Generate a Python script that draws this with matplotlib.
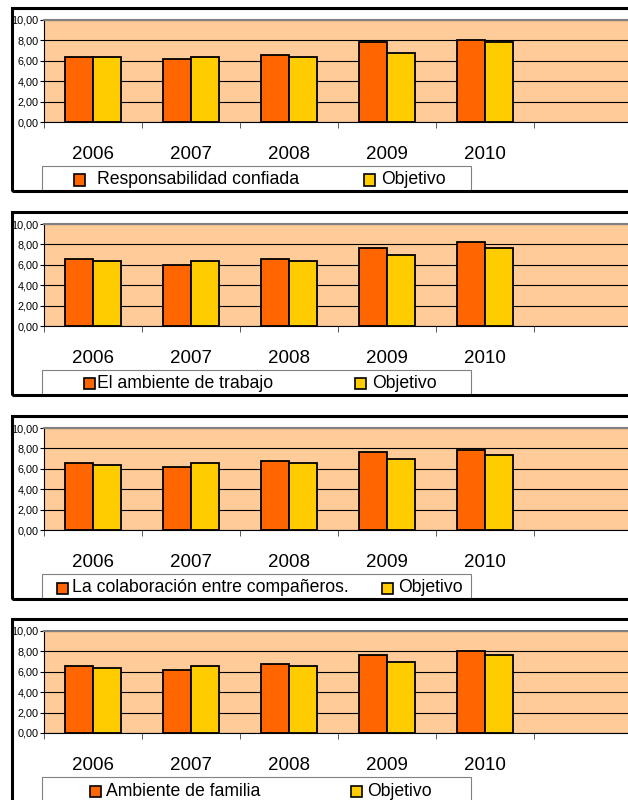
import matplotlib
matplotlib.use("Agg")
import matplotlib.pyplot as plt
from matplotlib.patches import Rectangle
import numpy as np

plt.rcParams['font.family'] = ['Liberation Sans', 'DejaVu Sans']

years = ['2006', '2007', '2008', '2009', '2010']
yticks = [0, 2, 4, 6, 8, 10]

resp = [6.4, 6.2, 6.6, 7.8, 8.0]
resp_obj = [6.4, 6.4, 6.4, 6.8, 7.8]
ambiente = [6.6, 6.0, 6.6, 7.6, 8.2]
ambiente_obj = [6.4, 6.4, 6.4, 7.0, 7.6]
colab = [6.6, 6.2, 6.8, 7.6, 7.8]
colab_obj = [6.4, 6.6, 6.6, 7.0, 7.4]
familia = [6.6, 6.2, 6.8, 7.6, 8.0]
familia_obj = [6.4, 6.6, 6.6, 7.0, 7.6]

names = ['Responsabilidad confiada', 'El ambiente de trabajo',
         'La colaboración entre compañeros.', 'Ambiente de familia']
obj_name = 'Objetivo'

W, H = 628, 800
fig = plt.figure(figsize=(W / 100, H / 100), dpi=100)

def fx(px):
    return px / W

def fy(py):
    return 1 - py / H

# pixel layout of each panel: border top, legend marker x (orange, yellow)
tops = [8, 212, 416, 619]
legend_x = [(74, 97, 364, 381), (84, 97, 355, 372), (57, 72, 382, 398), (90, 106, 351, 367)]

orange = '#FF6600'
yellow = '#FFCC00'
bg = '#FFCC99'

data = [(resp, resp_obj), (ambiente, ambiente_obj), (colab, colab_obj), (familia, familia_obj)]
x = np.arange(len(years))
w = 0.29

for i, (vals, objs) in enumerate(data):
    t = tops[i]
    p_top, p_bot = t + 12, t + 114
    left = 44
    width = 6 * 98
    ax = fig.add_axes([fx(left), fy(p_bot), width / W, (p_bot - p_top) / H])
    ax.set_facecolor(bg)
    ax.bar(x - w / 2, vals, w, color=orange, edgecolor='black', linewidth=1.3, zorder=3)
    ax.bar(x + w / 2, objs, w, color=yellow, edgecolor='black', linewidth=1.3, zorder=3)
    ax.set_xlim(-0.5, 5.5)
    ax.set_ylim(0, 10)
    ax.set_yticks(yticks)
    ax.set_yticklabels(['%d,00' % v for v in yticks], fontsize=7.8)
    ax.yaxis.grid(True, color='black', linewidth=0.8)
    ax.set_axisbelow(True)
    ax.set_xticks(x)
    ax.set_xticklabels(years, fontsize=13.5)
    ax.set_xticks(np.arange(-0.5, 6, 1), minor=True)
    ax.tick_params(axis='x', which='major', length=0, pad=17)
    ax.tick_params(axis='x', which='minor', length=4, color='#404040')
    ax.tick_params(axis='y', length=3, pad=1, color='black')
    ax.spines['right'].set_visible(False)
    ax.spines['top'].set_color('#808080')
    ax.spines['top'].set_linewidth(1.5)
    ax.spines['left'].set_color('black')
    ax.spines['bottom'].set_color('black')

    # legend box
    lt = t + 158
    lh = 25 if i < 3 else 40
    fig.add_artist(Rectangle((fx(42), fy(lt + lh)), (471 - 42) / W, lh / H,
                             transform=fig.transFigure,
                             facecolor='white', edgecolor='#808080', linewidth=0.8))
    ty = t + 172
    ox, otx, yx, ytx = legend_x[i]
    sq = 11
    for mx, tx, col, lab in [(ox, otx, orange, names[i]), (yx, ytx, yellow, obj_name)]:
        fig.add_artist(Rectangle((fx(mx), fy(ty + sq / 2)), sq / W, sq / H,
                                 transform=fig.transFigure, facecolor=col,
                                 edgecolor='black', linewidth=1.2))
        fig.text(fx(tx), fy(ty), lab, fontsize=12.7, va='center', ha='left')

    # panel border
    fig.add_artist(Rectangle((fx(12), fy(t + 183)), (640 - 12) / W, 183 / H,
                             transform=fig.transFigure, fill=False,
                             edgecolor='black', linewidth=2.2))

fig.savefig('out.png', dpi=100)
